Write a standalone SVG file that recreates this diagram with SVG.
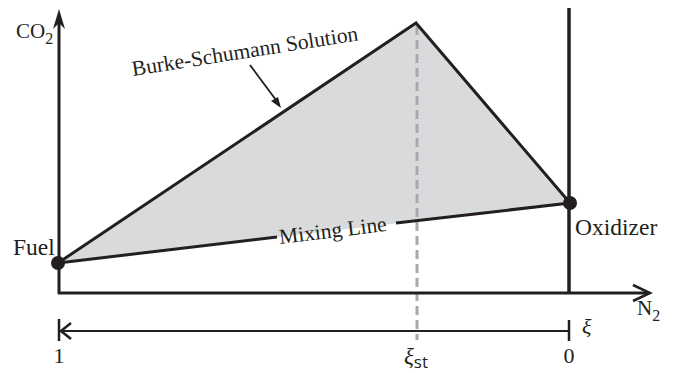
<svg xmlns="http://www.w3.org/2000/svg" width="674" height="373" viewBox="0 0 674 373">
<style>
.ln{stroke:#231f20;fill:none;stroke-linecap:butt}
.t{font-family:"Liberation Serif",serif;fill:#231f20}
.s{font-family:"Open Sans","DejaVu Sans",sans-serif;fill:#231f20}
</style>
<rect width="674" height="373" fill="#fff"/>
<g id="region">
<polygon points="58,263 416,23 570,203" fill="#d9dadc"/>
</g>
<g id="connectors">
<line class="ln" x1="417" y1="26" x2="417" y2="340" stroke="#a7a9ac" style="stroke:#a7a9ac" stroke-width="3" stroke-dasharray="9,5"/>
<line class="ln" x1="59" y1="294" x2="59" y2="22" stroke-width="3"/>
<polygon points="59,9 53,29 59,23 65,29" fill="#231f20"/>
<line class="ln" x1="58" y1="293" x2="648" y2="293" stroke-width="3"/>
<polyline class="ln" points="633,285 650,293 633,301" stroke-width="2.5"/>
<line class="ln" x1="569" y1="8" x2="569" y2="293" stroke-width="3.5"/>
<polyline class="ln" points="58,263 416,23 570,203" stroke-width="3" stroke-linejoin="miter"/>
<line class="ln" x1="58" y1="263" x2="277" y2="237" stroke-width="3"/>
<line class="ln" x1="396" y1="223" x2="570" y2="203" stroke-width="3"/>
<line class="ln" x1="60" y1="331" x2="569" y2="331" stroke-width="2"/>
<line class="ln" x1="59" y1="319" x2="59" y2="341" stroke-width="2.5"/>
<polyline class="ln" points="71,323 61,331 71,339" stroke-width="2.5"/>
<line class="ln" x1="569" y1="320" x2="569" y2="341" stroke-width="2.5"/>
<line class="ln" x1="250" y1="65" x2="276" y2="100" stroke-width="1.8"/>
<polygon points="281,108 271,101 278,97" fill="#231f20"/>
</g>
<g id="fuel">
<circle cx="58" cy="263" r="7" fill="#231f20"/>
<text class="t" x="13" y="255" font-size="23.5">Fuel</text>
</g>
<g id="oxidizer">
<circle cx="570" cy="203" r="7" fill="#231f20"/>
<text class="t" x="575" y="235" font-size="23.5">Oxidizer</text>
</g>
<g id="labels">
<text class="t" x="16" y="38" font-size="21">CO<tspan font-size="16" dy="6">2</tspan></text>
<text class="t" x="637" y="315" font-size="21">N<tspan font-size="16" dy="6">2</tspan></text>
<text class="t" transform="translate(133,76) rotate(-9)" font-size="21.5">Burke-Schumann Solution</text>
<text class="t" transform="translate(280,244) rotate(-7)" font-size="21.5">Mixing Line</text>
<text class="t" x="59" y="363" font-size="22" text-anchor="middle">1</text>
<text class="t" x="569" y="363" font-size="22" text-anchor="middle">0</text>
<text class="t" x="582" y="334" font-size="22" font-style="italic">ξ</text>
<text class="t" x="404" y="364" font-size="23" font-style="italic">ξ<tspan class="s" font-style="normal" font-size="17" dy="4">st</tspan></text>
</g>
</svg>
